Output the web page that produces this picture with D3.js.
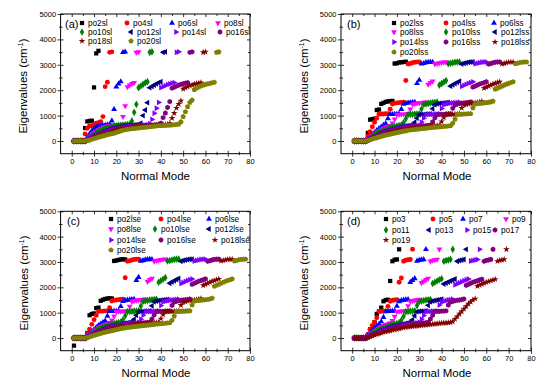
<!DOCTYPE html>
<html>
<head>
<meta charset="utf-8">
<script src="https://cdn.jsdelivr.net/npm/d3@7"></script>
<style>
body { margin: 0; background: #fff; }
svg { font-family: "Liberation Sans", Arial, sans-serif; }
</style>
</head>
<body>
<svg id="chart" width="550" height="386"></svg>
<script>
// ---- data: eigenvalues (cm-1) per normal mode, mode index = position + 1 ----

// panel (a): poNsl
var aNames = ['po2sl', 'po4sl', 'po6sl', 'po8sl', 'po10sl', 'po12sl', 'po14sl', 'po16sl', 'po18sl', 'po20sl'];
var aPo2 = [0,0,0,0,0,510,770,790,800,2110,3450,3550];
var aPo4 = [0,0,0,0,0,280,500,590,600,620,700,720,760,960,2140,2310,3490,3510];
var aPo6 = [0,0,0,0,0,0,150,280,400,490,550,580,600,610,620,640,650,800,1250,2130,2250,2340,3490,3510];
var aPo8 = [0,0,0,0,0,0,100,180,260,330,390,440,490,530,560,580,600,610,620,630,640,650,960,1380,2130,2200,2260,2300,3490,3510];
var aPo10 = [0,0,0,0,0,0,80,150,210,270,320,370,410,450,490,520,550,570,590,600,610,620,630,640,650,660,790,1130,1445,2100,2165,2230,2290,2335,3490,3510];
var aPo12 = [0,0,0,0,0,0,60,110,160,210,250,290,330,370,400,430,460,490,510,530,550,570,580,590,600,610,620,630,640,650,700,1000,1220,1510,2100,2150,2200,2250,2300,2335,3490,3510];
var aPo14 = [0,0,0,0,0,0,50,100,140,180,220,260,300,330,360,390,420,450,470,490,510,530,540,550,560,570,580,590,600,600,610,610,620,630,680,850,1090,1290,1520,2100,2140,2180,2220,2250,2280,2300,3490,3510];
var aPo16 = [0,0,0,0,0,0,40,80,120,160,190,220,250,290,320,350,380,410,440,460,480,500,520,530,540,550,560,570,580,590,600,600,610,610,620,620,630,640,650,700,920,1100,1320,1550,2080,2120,2160,2200,2230,2260,2280,2300,3490,3510];
var aPo18 = [0,0,0,0,0,0,30,60,100,130,160,190,220,250,280,310,340,370,400,420,440,460,480,500,510,520,530,540,550,560,570,580,590,600,600,610,610,620,620,630,640,650,660,700,900,1100,1300,1450,1580,2050,2100,2140,2180,2210,2240,2260,2280,2300,3490,3510];
var aPo20 = [0,0,0,0,0,0,20,40,70,100,120,150,170,200,220,250,270,290,310,340,370,400,420,440,460,470,480,490,500,510,520,530,540,550,560,570,580,590,600,600,610,610,620,620,630,640,650,660,750,960,1150,1350,1520,1610,2020,2080,2130,2170,2200,2230,2250,2270,2290,2310,3490,3510];

// panel (b): poNlss
var bNames = ['po2lss', 'po4lss', 'po6lss', 'po8lss', 'po10lss', 'po12lss', 'po14lss', 'po16lss', 'po18lss', 'po20lss'];
var bPo2 = [0,0,0,0,0,0,320,840,860,880,1220,1240,1460,1500,1540,1560,1570,1580,3050,3060,3090,3100,3110,3120];
var bPo4 = [0,0,0,0,0,0,200,370,560,735,900,1050,1060,1060,1070,1070,1250,1460,1490,1500,1510,1520,1530,2380,3030,3050,3080,3100,3110,3110];
var bPo6 = [0,0,0,0,0,0,100,180,260,340,420,500,560,620,690,880,1050,1050,1060,1060,1070,1250,1450,1480,1500,1510,1520,1530,2270,2400,3040,3060,3090,3100,3110,3100];
var bPo8 = [0,0,0,0,0,0,80,150,220,290,350,410,460,500,540,570,600,700,860,1040,1050,1050,1060,1060,1070,1250,1440,1470,1490,1500,1510,1520,1530,2230,2300,2350,3030,3050,3070,3090,3100,3110];
var bPo10 = [0,0,0,0,0,0,60,120,180,240,290,340,380,420,460,490,520,550,570,590,610,630,720,880,1040,1050,1050,1060,1060,1070,1260,1440,1460,1480,1500,1510,1520,1530,2200,2260,2320,2380,3040,3060,3080,3100,3110,3110];
var bPo12 = [0,0,0,0,0,0,50,100,150,200,240,280,320,360,390,420,450,470,490,510,530,550,570,590,600,610,630,740,900,1040,1050,1050,1060,1060,1070,1270,1430,1460,1480,1490,1500,1510,1520,2160,2210,2260,2310,2350,3030,3060,3080,3100,3110,3110];
var bPo14 = [0,0,0,0,0,0,40,90,130,170,210,250,290,320,350,380,410,440,460,480,500,520,540,550,560,570,580,590,600,620,740,900,1040,1050,1050,1050,1060,1060,1070,1280,1430,1450,1470,1490,1500,1510,1520,1530,2150,2190,2230,2270,2300,2330,3040,3060,3080,3100,3110,3110];
var bPo16 = [0,0,0,0,0,0,30,70,110,150,190,220,260,290,320,350,380,400,420,440,460,480,500,510,520,530,540,550,560,570,580,590,600,610,620,750,910,1040,1050,1050,1050,1060,1060,1070,1290,1420,1450,1470,1490,1500,1510,1520,1540,2120,2160,2200,2240,2270,2300,2330,3030,3050,3080,3100,3110,3110];
var bPo18 = [0,0,0,0,0,0,25,60,90,120,150,180,210,240,270,300,330,350,370,390,410,430,450,470,490,500,510,520,530,540,550,560,570,575,580,590,600,610,620,760,920,1040,1050,1050,1050,1060,1060,1070,1300,1420,1440,1460,1480,1490,1500,1510,1530,1560,2080,2120,2160,2200,2240,2270,2300,2330,3040,3060,3080,3100,3110,3110];
var bPo20 = [0,0,0,0,0,0,20,50,80,110,130,160,180,210,230,250,270,290,310,330,350,370,390,400,420,430,440,450,460,470,480,490,500,510,520,530,540,550,555,560,570,580,590,600,700,860,1040,1050,1050,1060,1060,1070,1070,1300,1450,1470,1480,1490,1500,1510,1520,1540,1570,2040,2080,2120,2160,2200,2240,2270,2300,2330,3040,3060,3090,3100,3110,3110];

// panel (c): poNlse
var cNames = ['po2lse', 'po4lse', 'po6lse', 'po8lse', 'po10lse', 'po12lse', 'po14lse', 'po16lse', 'po18lse', 'po20lse'];
var cPo2 = [-300,0,0,0,0,0,200,900,950,970,1180,1200,1470,1510,1540,1560,1570,1560,3040,3060,3080,3100,3110,3100];
var cPo4 = [0,0,0,0,0,0,180,350,540,720,900,1050,1060,1060,1070,1070,1200,1460,1490,1500,1510,1520,1530,2380,3030,3050,3080,3100,3110,3110];
var cPo6 = [0,0,0,0,0,0,100,180,260,340,420,500,560,620,680,870,1050,1050,1060,1060,1070,1250,1450,1480,1500,1510,1520,1530,2280,2400,3040,3060,3090,3100,3110,3100];
var cPo8 = [0,0,0,0,0,0,80,150,220,290,350,410,460,500,540,570,600,700,860,1040,1050,1050,1060,1060,1070,1250,1440,1470,1490,1500,1510,1520,1530,2230,2300,2350,3030,3050,3070,3090,3100,3110];
var cPo10 = [0,0,0,0,0,0,60,120,180,240,290,340,380,420,460,490,520,550,570,590,610,630,720,880,1040,1050,1050,1060,1060,1070,1260,1440,1460,1480,1500,1510,1520,1530,2200,2260,2320,2380,3040,3060,3080,3100,3110,3110];
var cPo12 = [0,0,0,0,0,0,50,100,150,200,240,280,320,360,390,420,450,470,490,510,530,550,570,590,600,610,630,740,900,1040,1050,1050,1060,1060,1070,1270,1430,1460,1480,1490,1500,1510,1520,2160,2210,2260,2310,2350,3030,3060,3080,3100,3110,3110];
var cPo14 = [0,0,0,0,0,0,40,90,130,170,210,250,290,320,350,380,410,440,460,480,500,520,540,550,560,570,580,590,600,620,740,900,1040,1050,1050,1050,1060,1060,1070,1280,1430,1450,1470,1490,1500,1510,1520,1530,2150,2190,2230,2270,2300,2330,3040,3060,3080,3100,3110,3110];
var cPo16 = [0,0,0,0,0,0,30,70,110,150,190,220,260,290,320,350,380,400,420,440,460,480,500,510,520,530,540,550,560,570,580,590,600,610,620,750,910,1040,1050,1050,1050,1060,1060,1070,1290,1420,1450,1470,1490,1500,1510,1520,1540,2120,2160,2200,2240,2270,2300,2330,3030,3050,3080,3100,3110,3110];
var cPo18 = [0,0,0,0,0,0,25,60,90,120,150,180,210,240,270,300,330,350,370,390,410,430,450,470,490,500,510,520,530,540,550,560,570,575,580,590,600,610,620,760,920,1040,1050,1050,1050,1060,1060,1070,1300,1420,1440,1460,1480,1490,1500,1510,1530,1560,2080,2120,2160,2200,2240,2270,2300,2330,3040,3060,3080,3100,3110,3110];
var cPo20 = [0,0,0,0,0,0,20,50,80,110,130,160,180,210,230,250,270,290,310,330,350,370,390,400,420,430,440,450,460,470,480,490,500,510,520,530,540,550,555,560,570,580,590,600,700,860,1040,1050,1050,1060,1060,1070,1070,1300,1450,1470,1480,1490,1500,1510,1520,1540,1570,2040,2080,2120,2160,2200,2240,2270,2300,2330,3040,3060,3090,3100,3110,3110];

// panel (d): poN, odd N
var dNames = ['po3', 'po5', 'po7', 'po9', 'po11', 'po13', 'po15', 'po17', 'po19'];
var dPo3 = [0,0,0,0,0,0,100,350,360,620,950,1050,1200,1450,1500,1510,2250,3030,3090,3100,3500];
var dPo5 = [0,0,0,0,0,0,150,350,500,620,800,1050,1060,1060,1070,1250,1450,1490,1500,1510,2200,2370,3030,3070,3090,3100,3500];
var dPo7 = [0,0,0,0,0,0,100,200,300,400,480,550,650,820,1040,1050,1060,1060,1070,1260,1440,1480,1500,1510,1520,2200,2280,2350,3040,3070,3090,3100,3500];
var dPo9 = [0,0,0,0,0,0,70,140,210,280,340,400,450,490,530,560,590,680,850,1040,1050,1060,1060,1070,1270,1440,1470,1490,1500,1520,2180,2240,2300,2350,3030,3060,3080,3100,3500];
var dPo11 = [0,0,0,0,0,0,60,120,170,220,270,320,360,400,430,460,490,520,550,570,600,700,860,1040,1050,1060,1060,1070,1280,1430,1460,1480,1500,1510,1520,2150,2200,2250,2300,2340,3030,3060,3080,3100,3500];
var dPo13 = [0,0,0,0,0,0,50,100,150,190,230,270,310,340,370,400,430,460,480,500,520,540,560,580,600,620,720,880,1040,1050,1060,1060,1070,1290,1430,1460,1480,1500,1510,1530,2130,2170,2210,2250,2290,2330,3030,3060,3080,3100,3500];
var dPo15 = [0,0,0,0,0,0,40,80,120,160,200,240,270,300,330,360,390,420,440,460,480,500,520,540,550,560,570,590,600,620,740,890,1040,1050,1050,1060,1060,1070,1300,1420,1450,1480,1500,1510,1530,2100,2140,2180,2220,2260,2300,2330,3040,3060,3080,3100,3500];
var dPo17 = [0,0,0,0,0,0,30,70,110,150,180,210,240,270,300,330,360,390,410,430,450,470,490,510,520,530,540,550,560,570,580,590,600,620,750,900,1040,1050,1050,1060,1060,1070,1300,1420,1450,1470,1490,1500,1520,1540,2080,2120,2160,2200,2230,2260,2290,2320,3030,3060,3080,3100,3500];
var dPo19 = [0,0,0,0,0,0,20,50,80,110,140,170,200,230,250,270,290,310,330,350,370,390,410,430,440,450,460,470,480,490,500,510,520,530,540,550,560,570,580,590,600,600,610,620,650,750,850,950,1050,1150,1250,1350,1430,1500,1550,2050,2090,2130,2170,2200,2230,2260,2290,2320,3030,3060,3080,3100,3500];

var xTicks = [0, 10, 20, 30, 40, 50, 60, 70, 80];
var yTicks = [0, 1000, 2000, 3000, 4000, 5000];

// ---- styles ----
var colors = ['#000000', '#ff0000', '#0000ff', '#ff00ff', '#008000', '#000080', '#8000ff', '#800080', '#800000', '#808000'];

var hexagon = {
    draw: function (ctx, size) {
        var r = Math.sqrt(size / 2.598);
        for (var i = 0; i < 6; i++) {
            var a = Math.PI / 3 * i + Math.PI / 6;
            if (i === 0) ctx.moveTo(r * Math.cos(a), r * Math.sin(a));
            else ctx.lineTo(r * Math.cos(a), r * Math.sin(a));
        }
        ctx.closePath();
    }
};
var pentagon = {
    draw: function (ctx, size) {
        var r = Math.sqrt(size / 2.378);
        for (var i = 0; i < 5; i++) {
            var a = -Math.PI / 2 + i * 2 * Math.PI / 5;
            if (i === 0) ctx.moveTo(r * Math.cos(a), r * Math.sin(a));
            else ctx.lineTo(r * Math.cos(a), r * Math.sin(a));
        }
        ctx.closePath();
    }
};

// symbol type, size, rotation for each series slot
var markers = [
    { type: d3.symbolSquare, size: 18, rot: 0 },
    { type: d3.symbolCircle, size: 19, rot: 0 },
    { type: d3.symbolTriangle, size: 15, rot: 0 },
    { type: d3.symbolTriangle, size: 15, rot: 180 },
    { type: d3.symbolDiamond, size: 17, rot: 0 },
    { type: d3.symbolTriangle, size: 15, rot: -90 },
    { type: d3.symbolTriangle, size: 15, rot: 90 },
    { type: hexagon, size: 19, rot: 0 },
    { type: d3.symbolStar, size: 14, rot: 0 },
    { type: pentagon, size: 19, rot: 0 }
];

var panels = [
    {
        tag: '(a)', tagX: 65, tagY: 28,
        left: 60.6, right: 250, top: 14, bottom: 153.7,
        names: aNames, data: [aPo2, aPo4, aPo6, aPo8, aPo10, aPo12, aPo14, aPo16, aPo18, aPo20],
        legX: [[82, 127, 172, 218], [82, 131, 176, 220], [82, 131]], legY: [23, 32, 41],
        xTitleX: 155.5, xTitleY: 180, yTitleX: 27, yTitleY: 86
    },
    {
        tag: '(b)', tagX: 347, tagY: 28,
        left: 341, right: 531, top: 14, bottom: 153.7,
        names: bNames, data: [bPo2, bPo4, bPo6, bPo8, bPo10, bPo12, bPo14, bPo16, bPo18, bPo20],
        legX: [[394, 446, 494], [394, 446, 495], [394, 446, 495], [394]], legY: [23, 32, 42, 52],
        xTitleX: 437, xTitleY: 180, yTitleX: 308, yTitleY: 86
    },
    {
        tag: '(c)', tagX: 67, tagY: 225,
        left: 60.6, right: 250, top: 211.3, bottom: 350.7,
        names: cNames, data: [cPo2, cPo4, cPo6, cPo8, cPo10, cPo12, cPo14, cPo16, cPo18, cPo20],
        legX: [[111, 161, 209], [111, 155, 209], [111, 161, 215], [111]], legY: [219, 229, 240, 250],
        xTitleX: 156, xTitleY: 377, yTitleX: 28, yTitleY: 283
    },
    {
        tag: '(d)', tagX: 347, tagY: 225,
        left: 341, right: 531, top: 211.3, bottom: 350.7,
        names: dNames, data: [dPo3, dPo5, dPo7, dPo9, dPo11, dPo13, dPo15, dPo17, dPo19],
        legX: [[386, 433, 463, 506], [386, 429, 467, 495], [386]], legY: [219, 230, 240],
        xTitleX: 437, xTitleY: 377, yTitleX: 308, yTitleY: 283
    }
];

var svg = d3.select('#chart');
var fmt = d3.format('d');

function styleAxis(sel) {
    sel.attr('font-family', null).attr('font-size', 7.5);
    sel.select('.domain').remove();
    sel.selectAll('line').attr('stroke', '#000').attr('stroke-width', 0.8);
    sel.selectAll('text').attr('fill', '#000');
}

panels.forEach(function (p) {
    var x = d3.scaleLinear().domain([-5, 80]).range([p.left, p.right]);
    var y = d3.scaleLinear().domain([-500, 5000]).range([p.bottom, p.top]);
    var g = svg.append('g');

    var xMinor = xTicks.map(function (t) { return t + 5; }).filter(function (t) { return t < 80; });
    var yMinor = yTicks.map(function (t) { return t + 500; }).filter(function (t) { return t < 5000; });

    // bottom axis: labels + ticks out and in
    g.append('g').attr('transform', 'translate(0,' + p.bottom + ')')
        .call(d3.axisBottom(x).tickValues(xTicks).tickFormat(fmt).tickSize(3).tickPadding(1.5)).call(styleAxis);
    g.append('g').attr('transform', 'translate(0,' + p.bottom + ')')
        .call(d3.axisBottom(x).tickValues(xTicks).tickSize(-3).tickFormat('')).call(styleAxis);
    g.append('g').attr('transform', 'translate(0,' + p.bottom + ')')
        .call(d3.axisBottom(x).tickValues(xMinor).tickSize(-2).tickFormat('')).call(styleAxis);
    g.append('g').attr('transform', 'translate(0,' + p.bottom + ')')
        .call(d3.axisBottom(x).tickValues(xMinor).tickSize(1.5).tickFormat('')).call(styleAxis);

    // left axis
    g.append('g').attr('transform', 'translate(' + p.left + ',0)')
        .call(d3.axisLeft(y).tickValues(yTicks).tickFormat(fmt).tickSize(3).tickPadding(1.5)).call(styleAxis);
    g.append('g').attr('transform', 'translate(' + p.left + ',0)')
        .call(d3.axisLeft(y).tickValues(yTicks).tickSize(-3).tickFormat('')).call(styleAxis);
    g.append('g').attr('transform', 'translate(' + p.left + ',0)')
        .call(d3.axisLeft(y).tickValues(yMinor).tickSize(-2).tickFormat('')).call(styleAxis);
    g.append('g').attr('transform', 'translate(' + p.left + ',0)')
        .call(d3.axisLeft(y).tickValues(yMinor).tickSize(1.5).tickFormat('')).call(styleAxis);

    // top and right: inward ticks only
    g.append('g').attr('transform', 'translate(0,' + p.top + ')')
        .call(d3.axisTop(x).tickValues(xTicks).tickSize(-3).tickFormat('')).call(styleAxis);
    g.append('g').attr('transform', 'translate(0,' + p.top + ')')
        .call(d3.axisTop(x).tickValues(xMinor).tickSize(-2).tickFormat('')).call(styleAxis);
    g.append('g').attr('transform', 'translate(' + p.right + ',0)')
        .call(d3.axisRight(y).tickValues(yTicks).tickSize(-3).tickFormat('')).call(styleAxis);
    g.append('g').attr('transform', 'translate(' + p.right + ',0)')
        .call(d3.axisRight(y).tickValues(yMinor).tickSize(-2).tickFormat('')).call(styleAxis);

    // frame
    g.append('rect')
        .attr('x', p.left).attr('y', p.top)
        .attr('width', p.right - p.left).attr('height', p.bottom - p.top)
        .attr('fill', 'none').attr('stroke', '#000').attr('stroke-width', 1);

    // points, first series drawn first
    p.data.forEach(function (values, si) {
        var m = markers[si];
        var path = d3.symbol().type(m.type).size(m.size)();
        g.append('g').selectAll('path')
            .data(values)
            .enter()
            .append('path')
            .attr('d', path)
            .attr('transform', function (d, i) {
                return 'translate(' + x(i + 1) + ',' + y(d) + ') rotate(' + m.rot + ')';
            })
            .attr('fill', colors[si]);
    });

    // legend
    var k = 0;
    p.legX.forEach(function (row, r) {
        row.forEach(function (lx) {
            var m = markers[k];
            g.append('path')
                .attr('d', d3.symbol().type(m.type).size(m.size)())
                .attr('transform', 'translate(' + lx + ',' + p.legY[r] + ') rotate(' + m.rot + ')')
                .attr('fill', colors[k]);
            g.append('text')
                .attr('x', lx + 6)
                .attr('y', p.legY[r] + 3)
                .attr('font-size', 8.2)
                .text(p.names[k]);
            k++;
        });
    });

    // panel tag
    g.append('text').attr('x', p.tagX).attr('y', p.tagY)
        .attr('font-size', 11).text(p.tag);

    // axis titles
    g.append('text').attr('x', p.xTitleX).attr('y', p.xTitleY)
        .attr('text-anchor', 'middle').attr('font-size', 11.5)
        .text('Normal Mode');

    var yt = g.append('text')
        .attr('transform', 'translate(' + p.yTitleX + ',' + p.yTitleY + ') rotate(-90)')
        .attr('text-anchor', 'middle').attr('font-size', 11.5);
    yt.append('tspan').text('Eigenvalues (cm');
    yt.append('tspan').attr('font-size', 7).attr('dy', -4.5).text('-1');
    yt.append('tspan').attr('dy', 4.5).text(')');
});
</script>
</body>
</html>
